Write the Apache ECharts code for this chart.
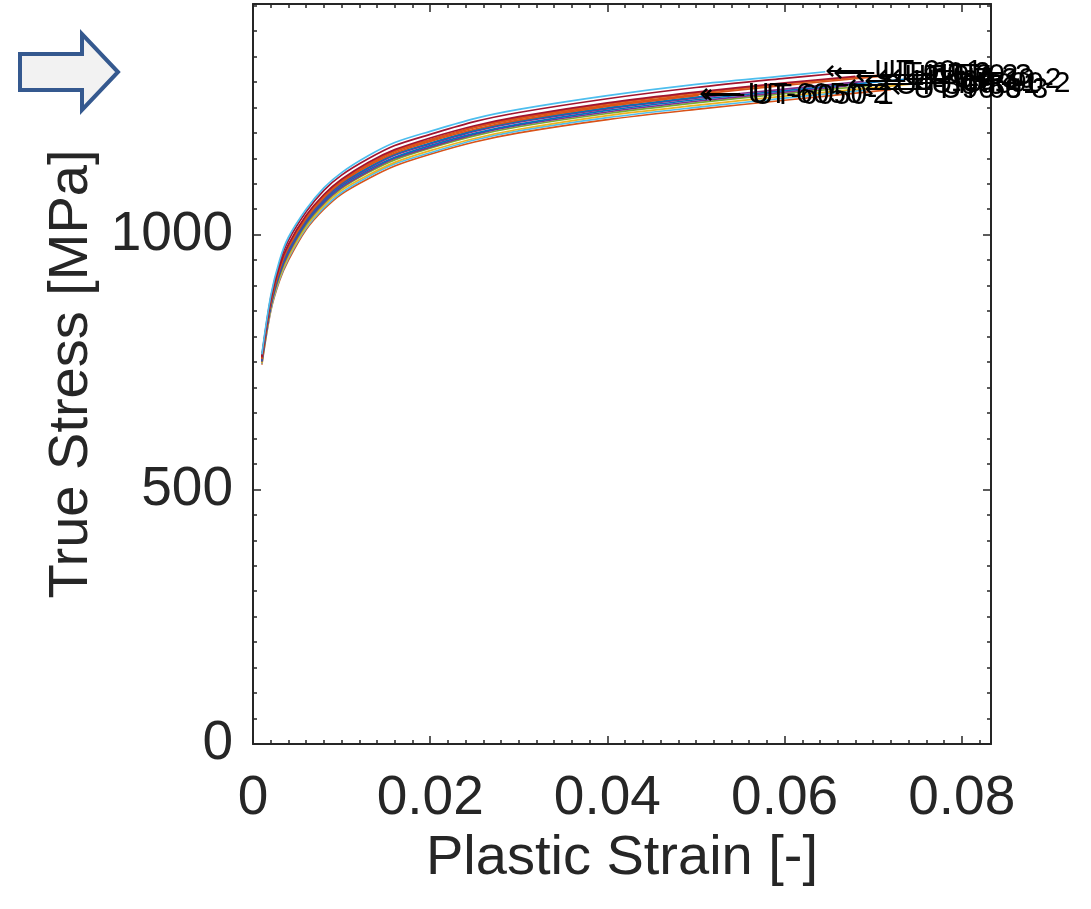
<!DOCTYPE html>
<html>
<head>
<meta charset="utf-8">
<script src="https://cdn.jsdelivr.net/npm/echarts@6/dist/echarts.min.js"></script>
<style>
html,body{margin:0;padding:0;background:#fff;}
#chart{width:1091px;height:909px;}
</style>
</head>
<body>
<div id="chart"></div>
<script>
// Strain grid (plastic strain) shared by all curves
const strain = [0.001, 0.002, 0.003, 0.004, 0.006, 0.008, 0.010, 0.013, 0.016, 0.020, 0.025, 0.030, 0.040, 0.050, 0.060];

// Curve names (labels at curve ends)
const names = ['UT-60-1', 'UT-60-2', 'UT-0-1', 'UT-0-2', 'UT-0-3', 'UT-6050-2', 'UT-6050-1',
               'UT-30-1', 'UT-30-2', 'UT-30-3', 'UT-90-1', 'UT-90-2', 'UT-90-3', 'UT-60-3'];

// End point of each curve
const endStrain = [0.0646, 0.0655, 0.0680, 0.0705, 0.0720, 0.0503, 0.0508, 0.0690, 0.0735, 0.0670, 0.0710, 0.0745, 0.0690, 0.0720];
const endStress = [1320, 1316, 1311, 1313, 1313, 1274, 1272, 1301, 1305, 1292, 1295, 1296, 1284, 1285];

// True stress values on the strain grid [MPa]
const stress1  = [765, 880, 950, 995, 1050, 1092, 1122, 1155, 1181, 1203, 1228, 1246, 1273, 1295, 1312];
const stress2  = [762, 876, 945, 989, 1045, 1087, 1117, 1149, 1175, 1197, 1222, 1240, 1267, 1289, 1307];
const stress3  = [759, 871, 938, 981, 1038, 1079, 1109, 1142, 1167, 1190, 1214, 1232, 1259, 1280, 1298];
const stress4  = [758, 870, 936, 979, 1036, 1077, 1107, 1139, 1165, 1187, 1212, 1230, 1257, 1278, 1296];
const stress5  = [757, 868, 934, 977, 1034, 1075, 1105, 1137, 1163, 1185, 1210, 1228, 1254, 1275, 1293];
const stress6  = [756, 867, 932, 975, 1032, 1073, 1103, 1135, 1160, 1183, 1207, 1225, 1252, 1273];
const stress7  = [755, 865, 930, 972, 1030, 1071, 1101, 1132, 1158, 1180, 1205, 1223, 1249, 1270];
const stress8  = [754, 863, 928, 970, 1028, 1069, 1099, 1130, 1156, 1178, 1203, 1221, 1247, 1268, 1286];
const stress9  = [753, 861, 925, 967, 1025, 1066, 1096, 1127, 1152, 1175, 1199, 1217, 1244, 1265, 1283];
const stress10 = [751, 860, 923, 964, 1023, 1063, 1093, 1124, 1150, 1172, 1197, 1215, 1241, 1262, 1280];
const stress11 = [750, 858, 920, 962, 1020, 1061, 1091, 1122, 1147, 1170, 1194, 1212, 1238, 1259, 1277];
const stress12 = [748, 855, 916, 957, 1016, 1057, 1087, 1117, 1142, 1165, 1189, 1207, 1234, 1254, 1272];
const stress13 = [747, 852, 913, 954, 1013, 1053, 1083, 1114, 1139, 1161, 1186, 1204, 1230, 1250, 1268];
const stress14 = [745, 850, 910, 950, 1010, 1050, 1080, 1110, 1135, 1158, 1182, 1200, 1226, 1246, 1264];

const colors = ['#4DBEEE', '#A2142F', '#A2142F', '#D95319', '#D95319', '#D95319', '#0072BD',
                '#7E2F8E', '#0072BD', '#7E2F8E', '#77AC30', '#EDB120', '#4DBEEE', '#D95319'];

// Axis ticks
const xMin = 0, xMax = 0.0833, xMajor = 0.02, xMinor = 0.002;
const yMin = 0, yMax = 1453, yMajor = 500, yMinor = 50;

const allStress = [stress1, stress2, stress3, stress4, stress5, stress6, stress7,
                   stress8, stress9, stress10, stress11, stress12, stress13, stress14];

const FONT = 'Liberation Sans, Arial, Helvetica, sans-serif';
const AX = '#262626';

const drawOrder = [13, 12, 11, 10, 9, 8, 7, 6, 5, 4, 3, 2, 1, 0];
const series = drawOrder.map(function (i) {
  const data = [];
  allStress[i].forEach(function (v, k) {
    if (strain[k] < endStrain[i]) data.push([strain[k], v]);
  });
  data.push([endStrain[i], endStress[i]]);
  return {
    name: names[i],
    type: 'line',
    xAxisIndex: 0,
    yAxisIndex: 0,
    data: data,
    smooth: 0.3,
    showSymbol: false,
    symbol: 'none',
    clip: false,
    lineStyle: { color: colors[i], width: 1.7 },
    endLabel: {
      show: true,
      formatter: '\u27F5\u2009{a}',
      color: '#000',
      fontSize: 30,
      fontFamily: FONT,
      distance: 0
    },
    z: 2
  };
});

function xAx(pos, major, showLabel, tickLen, showLine, name) {
  return {
    type: 'value', position: pos, min: xMin, max: xMax,
    interval: major ? xMajor : xMinor,
    name: name || '', nameLocation: 'middle', nameGap: 68,
    nameTextStyle: { fontSize: 56, color: AX, fontFamily: FONT },
    axisLine: { show: showLine, onZero: false, lineStyle: { color: AX, width: 2 } },
    axisTick: { show: true, inside: true, length: tickLen, lineStyle: { color: AX, width: 1.5 } },
    axisLabel: { show: showLabel, fontSize: 55, color: AX, fontFamily: FONT, margin: 27,
      formatter: function (v) { return +v.toFixed(3) + ''; }, showMaxLabel: false },
    splitLine: { show: false }
  };
}
function yAx(pos, major, showLabel, tickLen, showLine, name) {
  return {
    type: 'value', position: pos, min: yMin, max: yMax,
    interval: major ? yMajor : yMinor,
    name: name || '', nameLocation: 'middle', nameGap: 133,
    nameTextStyle: { fontSize: 56, color: AX, fontFamily: FONT },
    axisLine: { show: showLine, onZero: false, lineStyle: { color: AX, width: 2 } },
    axisTick: { show: true, inside: true, length: tickLen, lineStyle: { color: AX, width: 1.5 } },
    axisLabel: { show: showLabel, fontSize: 55, color: AX, fontFamily: FONT, margin: 20, showMaxLabel: false,
      formatter: function (v) { return String(v); } },
    splitLine: { show: false }
  };
}

const chart = echarts.init(document.getElementById('chart'), null, { renderer: 'canvas' });
chart.setOption({
  animation: false,
  backgroundColor: '#fff',
  grid: { left: 253, right: 100, top: 4, bottom: 165, containLabel: false },
  xAxis: [
    xAx('bottom', true, true, 8, true, 'Plastic Strain [-]'),
    xAx('top', true, false, 8, true),
    xAx('bottom', false, false, 4, false),
    xAx('top', false, false, 4, false)
  ],
  yAxis: [
    yAx('left', true, true, 8, true, 'True Stress [MPa]'),
    yAx('right', true, false, 8, true),
    yAx('left', false, false, 4, false),
    yAx('right', false, false, 4, false)
  ],
  graphic: [{
    type: 'polygon',
    shape: { points: [[20, 54], [82, 54], [82, 34], [118, 72], [82, 110], [82, 90], [20, 90]] },
    style: { fill: '#f2f2f2', stroke: '#35598f', lineWidth: 4, lineJoin: 'miter' },
    z: 10
  }],
  series: series
});
</script>
</body>
</html>
